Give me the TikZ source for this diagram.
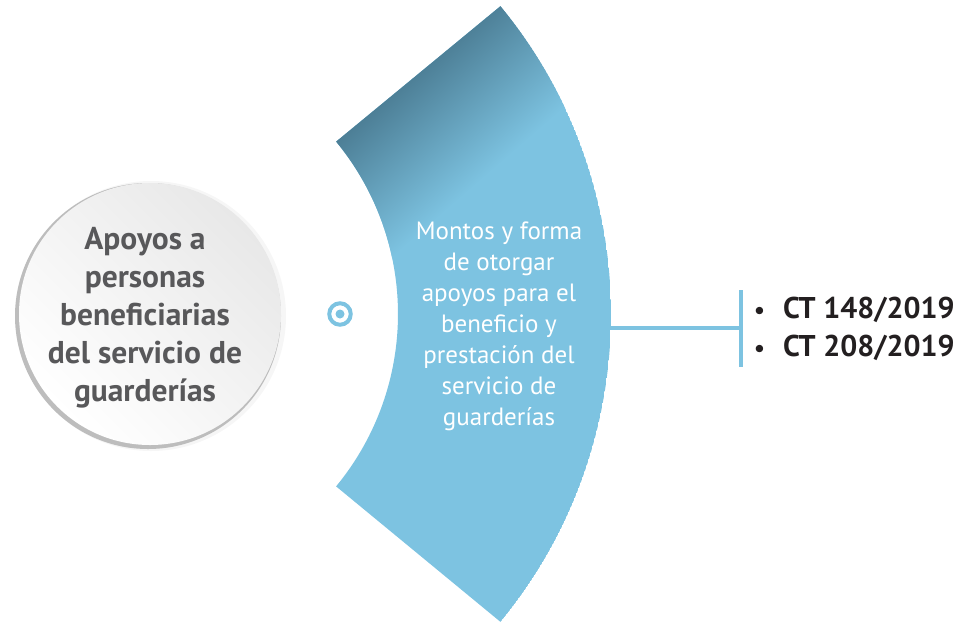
\documentclass[tikz,border=0pt]{standalone}
\usepackage{fontspec}
\setmainfont{PT Sans}
\definecolor{skyblue}{HTML}{7DC3E1}
\definecolor{deepblue}{HTML}{4A7B92}
\definecolor{textgray}{HTML}{58585A}
\definecolor{inkblack}{HTML}{231F20}
\definecolor{rimgray}{HTML}{BDBDBD}
\definecolor{ballgray}{HTML}{E8E8E8}
\tikzset{
  balltext/.style={align=center, text=textgray, font=\bfseries\fontsize{31.5}{38}\selectfont},
  fantext/.style={align=center, text=white, font=\fontsize{25}{31}\selectfont},
  listtext/.style={anchor=base west, inner sep=0pt, text=inkblack, font=\bfseries\fontsize{30}{38}\selectfont},
  connector/.style={draw=skyblue, line width=3.5pt},
}
\newcommand{\fanpath}{([shift={(127,314)}]-39.5:271) -- ([shift={(127,314)}]-39.5:484)
  arc[start angle=-39.5, end angle=39.5, radius=484] -- ([shift={(127,314)}]39.5:271)
  arc[start angle=39.5, end angle=-39.5, radius=271] -- cycle}
\newcommand{\listdot}{\makebox[29pt][l]{\fontsize{24}{24}\selectfont\textbullet}}
\begin{document}
\begin{tikzpicture}[x=1pt,y=-1pt]
  \useasboundingbox (0,0) rectangle (963,622);

  % ball on the left
  \fill[gray!7] (151,316) circle[radius=135];
  \fill[rimgray] (148,316) circle[radius=133];
  \shade[top color=ballgray, bottom color=white, shading angle=-45] (150,314) circle[radius=131];
  \node[balltext] (apoyos) at (145,318) {Apoyos a\\personas\\beneficiarias\\del servicio de\\guarderías};

  % target mark
  \node[circle, draw=skyblue, line width=4pt, minimum size=21.5pt, inner sep=0pt] (target) at (340,314) {};
  \fill[skyblue] (target.center) circle[radius=4.5];

  % fan with darker top corner
  \begin{scope}
    \clip \fanpath;
    \fill[skyblue] \fanpath;
    \begin{scope}[transform canvas={rotate around={41:(338,145)}}]
      \shade[top color=deepblue, bottom color=skyblue] (150,135) rectangle (750,265);
    \end{scope}
  \end{scope}
  \node[fantext] (montos) at (499,326) {Montos y forma\\de otorgar\\apoyos para el\\beneficio y\\prestación del\\servicio de\\guarderías};

  % bracket to the list
  \coordinate (fanedge) at (609,328);
  \coordinate (barmid) at (741,328);
  \coordinate (bartop) at (741,290);
  \coordinate (barbot) at (741,367);
  \draw[connector] (fanedge) -- (barmid);
  \draw[connector] (bartop) -- (barbot);

  \node[listtext] (ct1) at (754,318) {\listdot CT 148/2019};
  \node[listtext] (ct2) at (754,356) {\listdot CT 208/2019};
\end{tikzpicture}
\end{document}
